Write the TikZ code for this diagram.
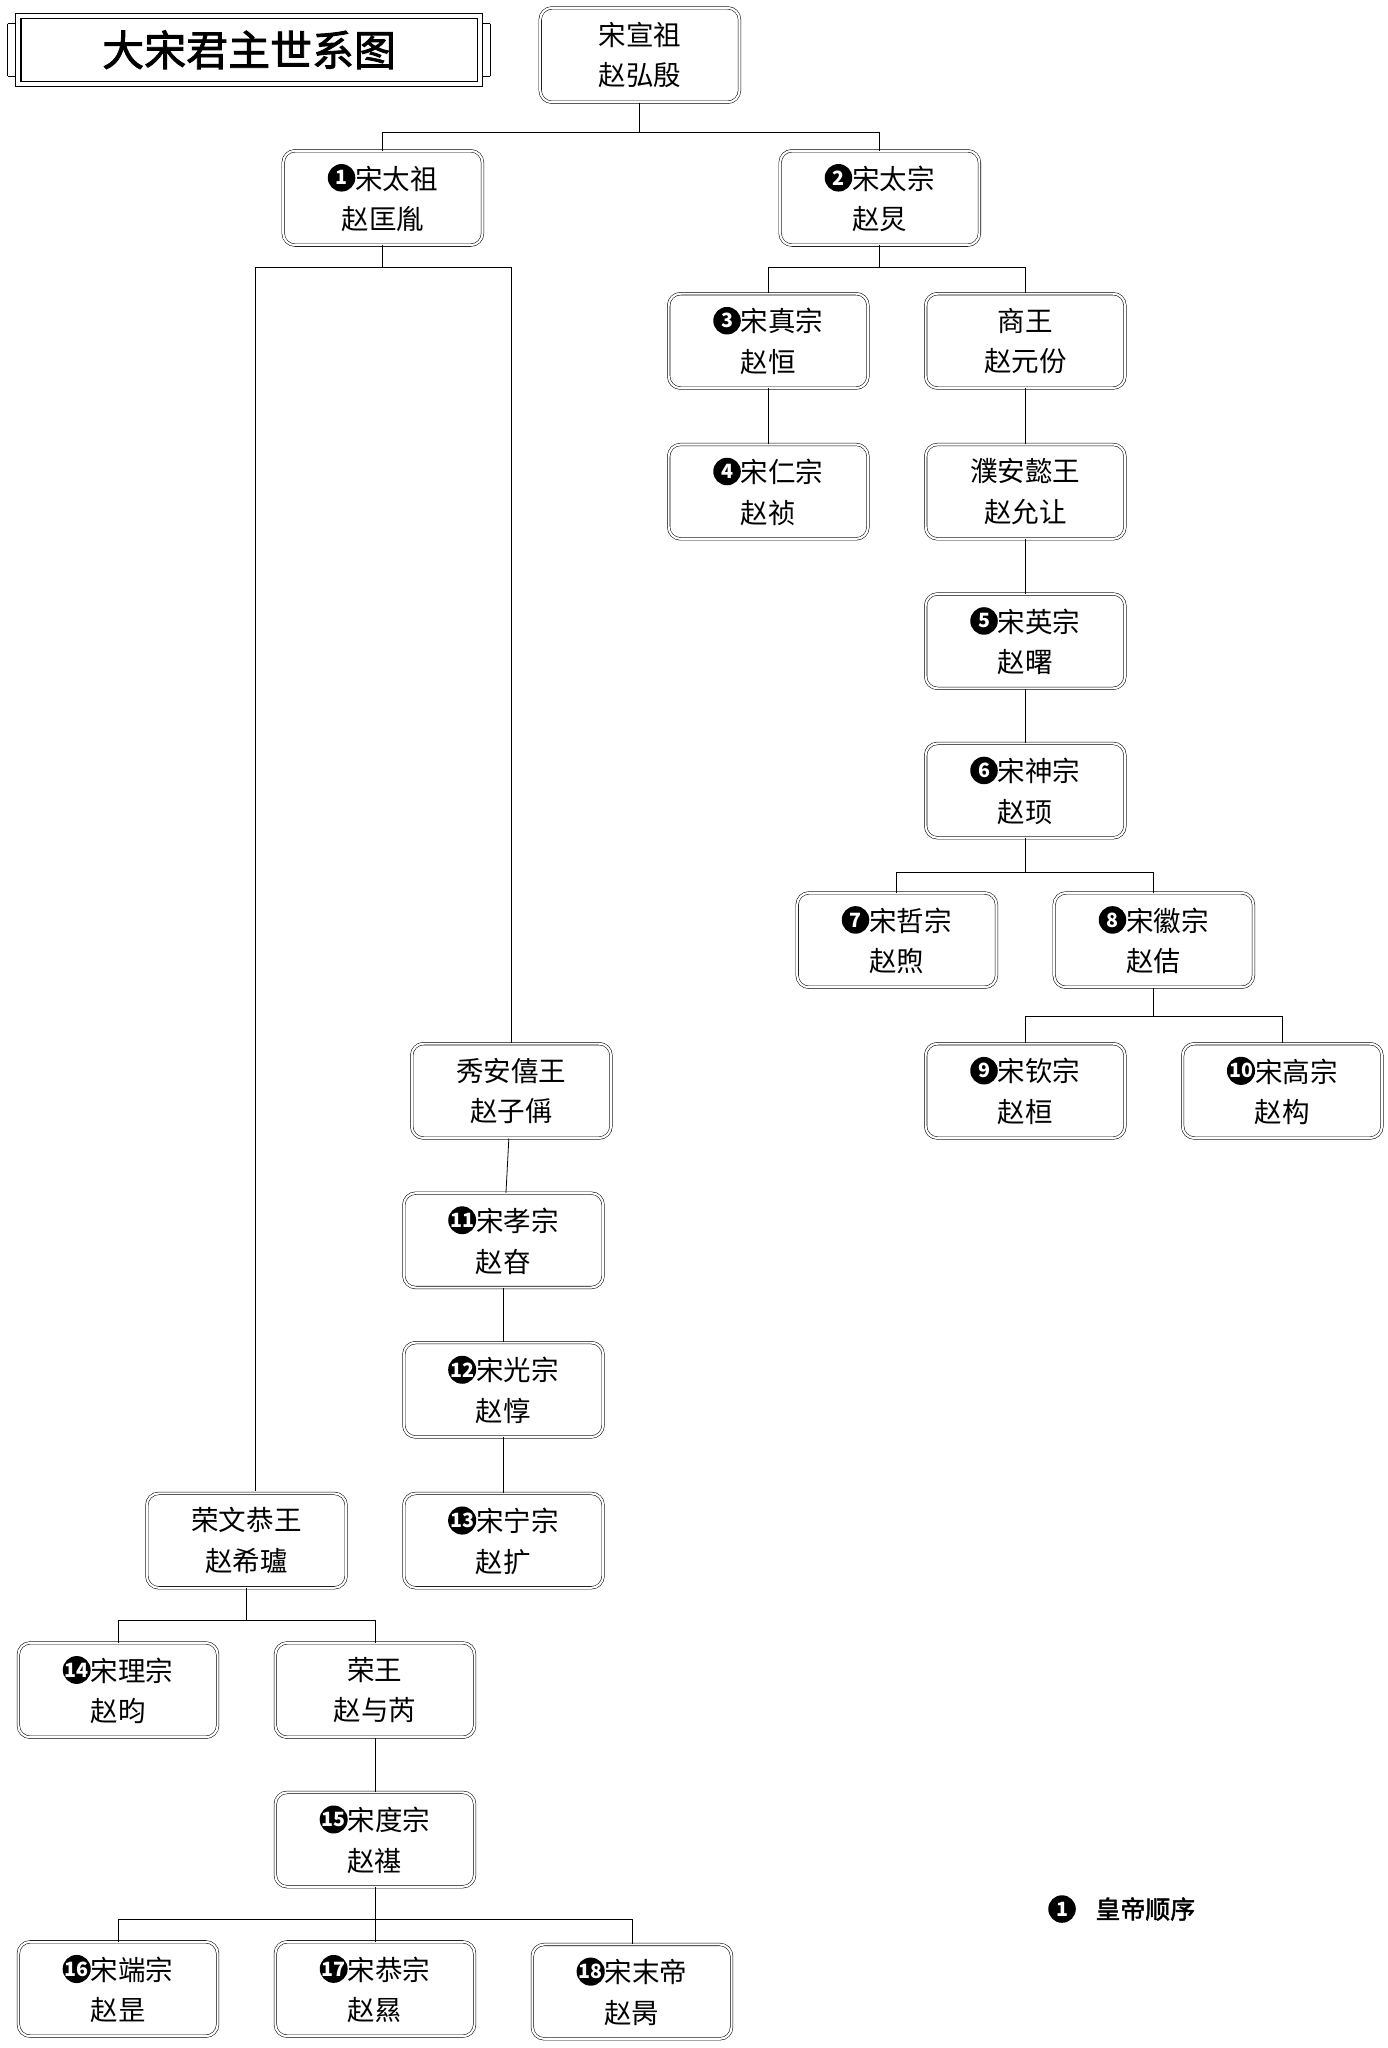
\documentclass[tikz,border=0pt]{standalone}
\usepackage{fontspec}
\setmainfont{Noto Sans CJK SC}
\newfontfamily\cjkbold[FakeBold=2]{Noto Sans CJK SC}
\usetikzlibrary{positioning}
\tikzset{
  ruler/.style={draw, rounded corners=9pt, double, double distance=1.6pt, thin,
    minimum width=152pt, minimum height=72pt, align=center,
    font=\fontsize{21}{31}\selectfont},
  link/.style={draw, line width=0.6pt}
}
\newcommand{\ord}[1]{\tikz[baseline=-0.75ex]\node[circle, fill=black, text=white,
  inner sep=0pt, minimum size=21pt, font=\fontsize{15}{15}\selectfont\bfseries]{#1};}
\begin{document}
\begin{tikzpicture}[x=1pt, y=-1pt]
\useasboundingbox (0,0) rectangle (1058,1562);
% title plate
\draw[line width=0.8pt] (12,10) rectangle (368,66);
\draw[line width=0.8pt] (16,14) rectangle (364,62);
\foreach \cx/\sx in {6/1, 374/-1}{
  \draw[line width=0.8pt] (\cx,18) -- ++(6*\sx,0) (\cx,58) -- ++(6*\sx,0)
    (\cx,18) -- (\cx,58);
}
\node[font=\cjkbold\fontsize{32}{32}\selectfont] (title) at (190,38) {大宋君主世系图};
% nodes
\node[ruler] (xuanzu) at (488,42) {宋宣祖\\赵弘殷};
\node[ruler] (taizu) at (292,151) {\ord{1}宋太祖\\赵匡胤};
\node[ruler] (taizong) at (671,151) {\ord{2}宋太宗\\赵炅};
\node[ruler] (zhenzong) at (586,260) {\ord{3}宋真宗\\赵恒};
\node[ruler] (shangwang) at (782,260) {商王\\赵元份};
\node[ruler] (renzong) at (586,375) {\ord{4}宋仁宗\\赵祯};
\node[ruler] (puwang) at (782,375) {濮安懿王\\赵允让};
\node[ruler] (yingzong) at (782,489) {\ord{5}宋英宗\\赵曙};
\node[ruler] (shenzong) at (782,603) {\ord{6}宋神宗\\赵顼};
\node[ruler] (zhezong) at (684,717) {\ord{7}宋哲宗\\赵煦};
\node[ruler] (huizong) at (880,717) {\ord{8}宋徽宗\\赵佶};
\node[ruler] (qinzong) at (782,832) {\ord{9}宋钦宗\\赵桓};
\node[ruler] (gaozong) at (978,832) {\ord{10}宋高宗\\赵构};
\node[ruler] (xiuwang) at (390,832) {秀安僖王\\赵子偁};
\node[ruler] (xiaozong) at (384,946) {\ord{11}宋孝宗\\赵昚};
\node[ruler] (guangzong) at (384,1060) {\ord{12}宋光宗\\赵惇};
\node[ruler] (ningzong) at (384,1175) {\ord{13}宋宁宗\\赵扩};
\node[ruler] (rongwen) at (188,1175) {荣文恭王\\赵希瓐};
\node[ruler] (lizong) at (90,1289) {\ord{14}宋理宗\\赵昀};
\node[ruler] (rongwang) at (286,1289) {荣王\\赵与芮};
\node[ruler] (duzong) at (286,1403) {\ord{15}宋度宗\\赵禥};
\node[ruler] (duanzong) at (90,1517) {\ord{16}宋端宗\\赵昰};
\node[ruler] (gongzong) at (286,1517) {\ord{17}宋恭宗\\赵㬎};
\node[ruler] (modi) at (482,1519) {\ord{18}宋末帝\\赵昺};
% legend
\node[font=\fontsize{21}{21}\selectfont] (legnum) at (810,1456) {\ord{1}};
\node[font=\cjkbold\fontsize{19}{19}\selectfont, right=8pt of legnum] (legtext) {皇帝顺序};
% lines of descent
\coordinate (b0) at (488,101);
\draw[link] (xuanzu) -- (b0);
\draw[link] (b0) -| (taizu);
\draw[link] (b0) -| (taizong);
\coordinate (b1) at (292,204);
\draw[link] (taizu) -- (b1);
\draw[link] (b1) -| (xiuwang);
\draw[link] (b1) -| (195,1137);
\coordinate (b2) at (671,204);
\draw[link] (taizong) -- (b2);
\draw[link] (b2) -| (zhenzong);
\draw[link] (b2) -| (shangwang);
\draw[link] (zhenzong) -- (renzong);
\draw[link] (shangwang) -- (puwang);
\draw[link] (puwang) -- (yingzong);
\draw[link] (yingzong) -- (shenzong);
\coordinate (b3) at (782,665);
\draw[link] (shenzong) -- (b3);
\draw[link] (b3) -| (zhezong);
\draw[link] (b3) -| (huizong);
\coordinate (b4) at (880,775);
\draw[link] (huizong) -- (b4);
\draw[link] (b4) -| (qinzong);
\draw[link] (b4) -| (gaozong);
\draw[link] (xiuwang) -- (xiaozong);
\draw[link] (xiaozong) -- (guangzong);
\draw[link] (guangzong) -- (ningzong);
\coordinate (b5) at (188,1236);
\draw[link] (rongwen) -- (b5);
\draw[link] (b5) -| (lizong);
\draw[link] (b5) -| (rongwang);
\draw[link] (rongwang) -- (duzong);
\coordinate (b6) at (286,1464);
\draw[link] (duzong) -- (b6);
\draw[link] (b6) -| (duanzong);
\draw[link] (b6) -| (gongzong);
\draw[link] (b6) -| (modi);
\end{tikzpicture}
\end{document}
